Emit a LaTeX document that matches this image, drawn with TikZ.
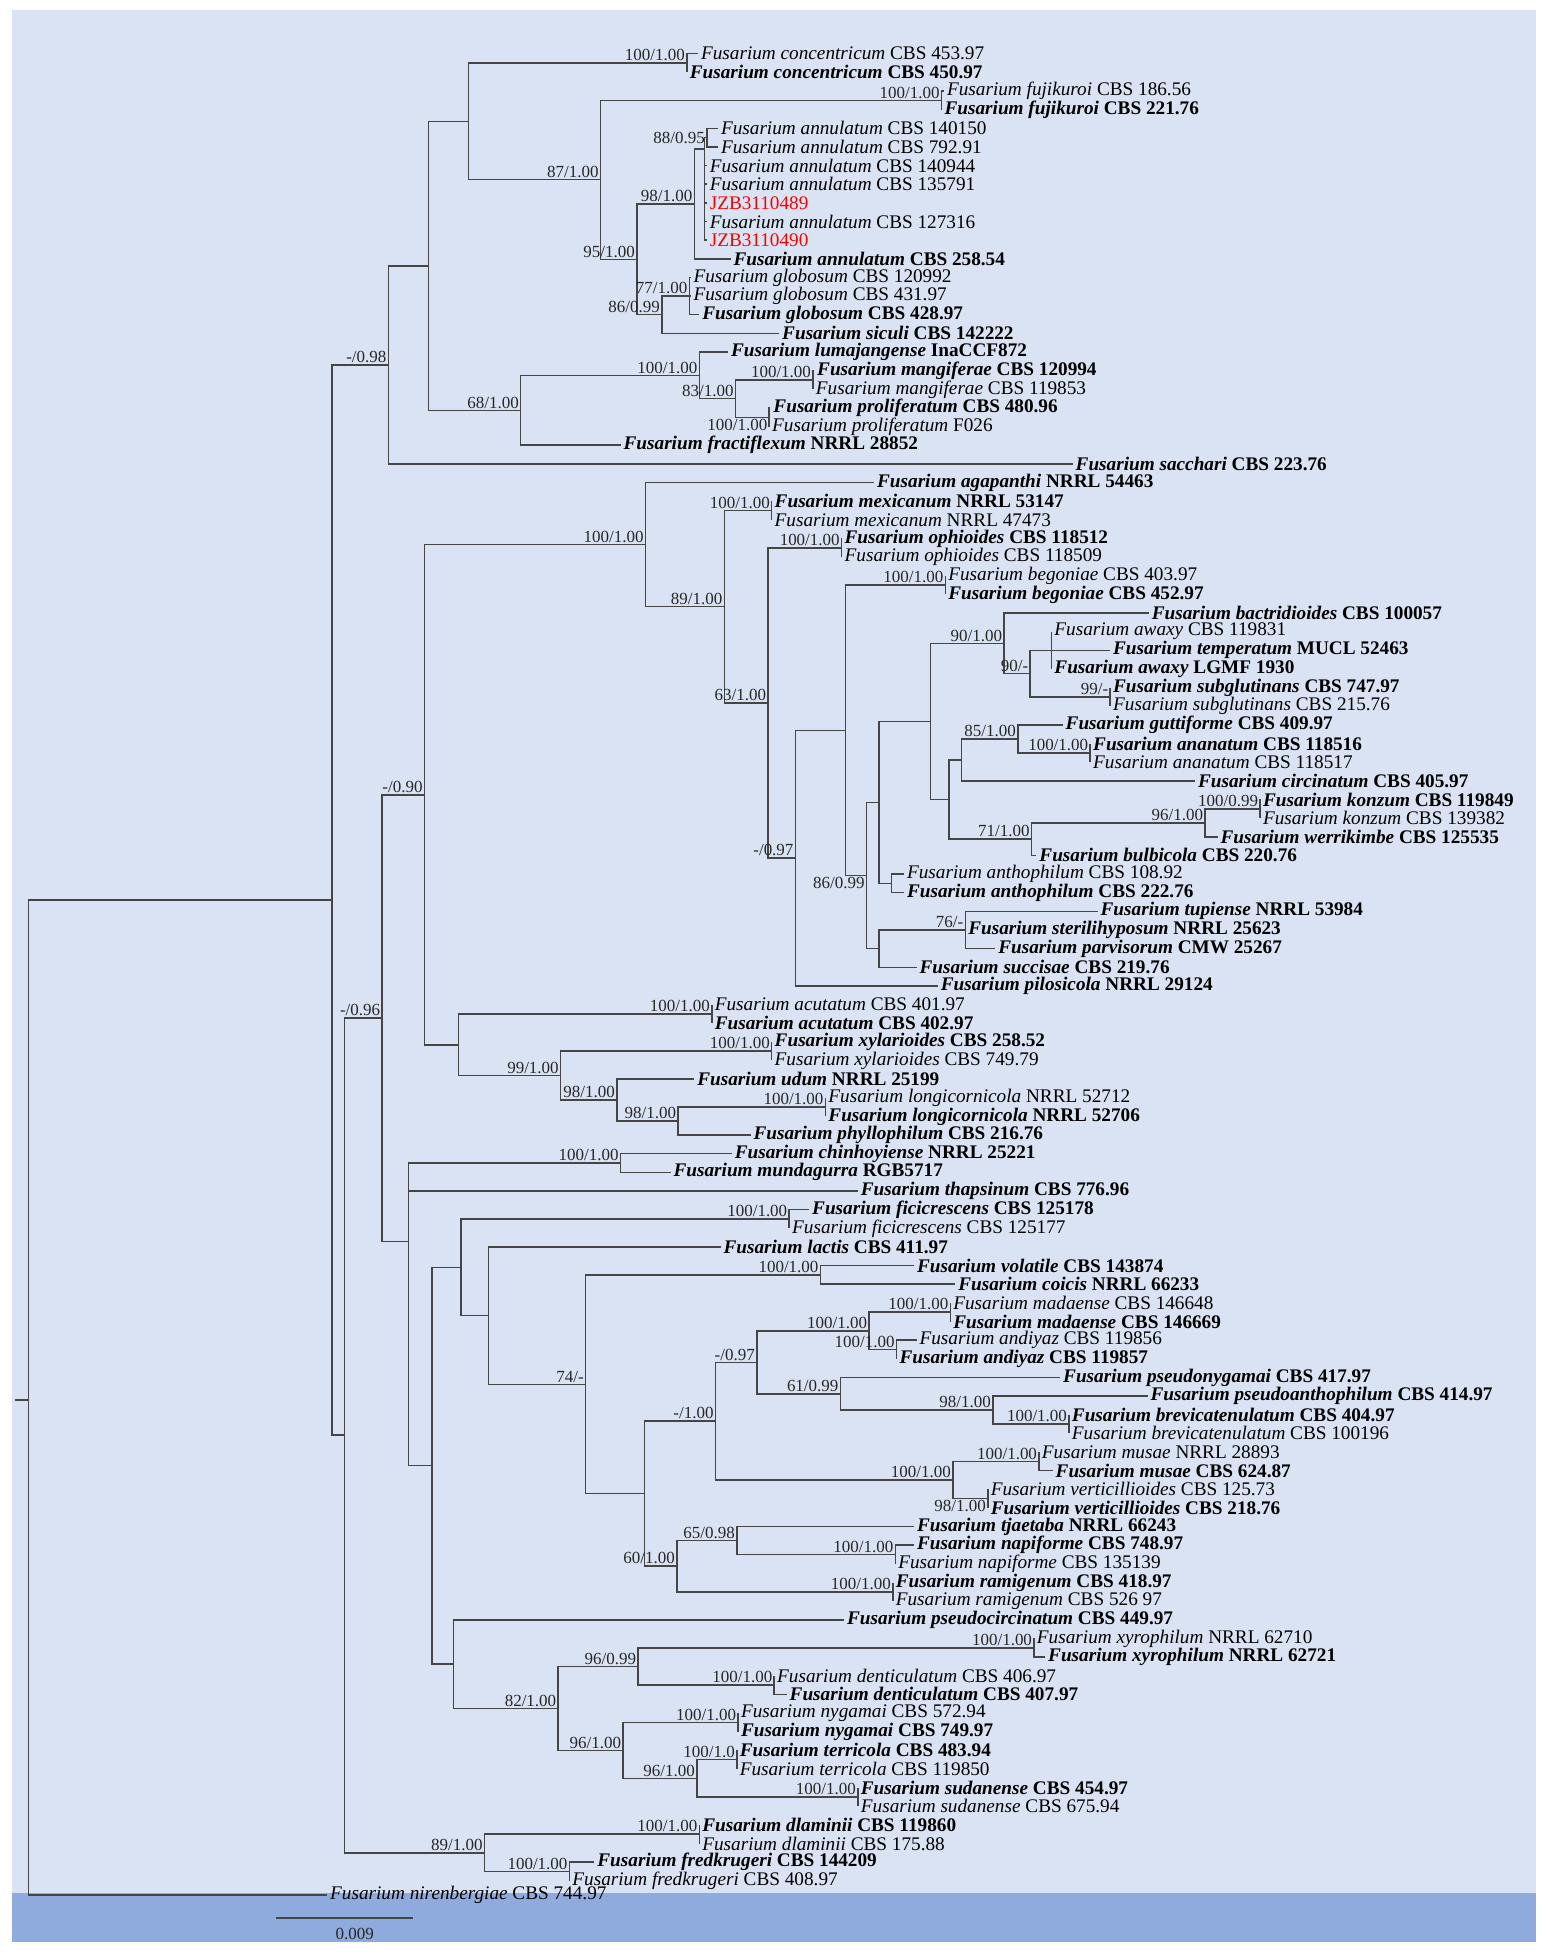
\documentclass[tikz,border=0pt]{standalone}
\usepackage{fontspec}
\setmainfont{Liberation Serif}
\usetikzlibrary{calc}
\definecolor{bgl}{HTML}{DAE3F3}
\definecolor{bgd}{HTML}{8FAADC}
\definecolor{jred}{HTML}{FF0000}
\definecolor{brc}{HTML}{454545}
\newcommand\F[1]{\textit{Fusarium #1}}
\newcommand\B[1]{{\bfseries #1}}
\newcommand\nd[6]{\coordinate (#1) at (#2,#3); \draw[br] (#4) |- (#1);
  \if\relax\detokenize{#5}\relax\else\node[sl,anchor=#6] (s#1) at (#1) {#5};\fi}
\newcommand\lf[5]{\coordinate (#1) at (#2,#3); \draw[br] (#4) |- (#1);
  \node[lft] (t#1) at (#1) {#5};}
\begin{document}
\begin{tikzpicture}[x=0.5pt,y=-7.465pt,
  br/.style={draw=brc,line width=0.6pt},
  lft/.style={anchor=west,inner sep=1pt,font=\fontsize{7.7}{8}\selectfont,text=black},
  sl/.style={inner sep=0.6pt,font=\fontsize{6.8}{7}\selectfont,text=black!85}]
\useasboundingbox (0,-2.88) rectangle (1240,102.14);
\fill[white] (0,-2.88) rectangle (1240,102.14);
\fill[bgl] (10,-2.344) rectangle (1230,101.27);
\fill[bgd] (10,98.65) rectangle (1230,101.27);
% root
\coordinate (RT) at (23,72.2);
\coordinate (RS) at (12,72.2);
\draw[br] (RS) -- (RT);
\nd{I}{266}{45.4}{RT}{}{south east}
\nd{A}{311}{16.69}{I}{-/0.98}{south east}
\nd{A1}{343}{11.38}{A}{}{south east}
\nd{A2}{375}{3.63}{A1}{}{south east}
\nd{P1}{550}{0.5}{A2}{100/1.00}{south east}
\nd{A4}{481}{6.76}{A2}{87/1.00}{south east}
\nd{P2}{754}{2.5}{A4}{100/1.00}{south east}
\nd{A5}{510}{11.03}{A4}{95/1.00}{south east}
\nd{A6}{556}{8.05}{A5}{98/1.00}{south east}
\nd{A8}{564}{5.1}{A6}{}{south east}
\nd{N88}{566}{4.5}{A8}{88/0.95}{east}
\nd{A7}{530}{14}{A5}{86/0.99}{south east}
\nd{GL}{552}{13}{A7}{77/1.00}{south east}
\nd{A3}{417}{19.125}{A1}{68/1.00}{south east}
\nd{A9}{560}{17.25}{A3}{100/1.00}{south east}
\nd{A10}{589}{18.5}{A9}{83/1.00}{south east}
\nd{MG}{651}{17.5}{A10}{100/1.00}{south east}
\nd{PR}{616}{19.5}{A10}{100/1.00}{north east}
\nd{U}{276}{74.1}{I}{}{south east}
\nd{B}{306}{51.73}{U}{-/0.96}{south east}
\nd{C}{340}{39.75}{B}{-/0.90}{south east}
\nd{D}{517}{26.33}{C}{100/1.00}{south east}
\nd{F}{580}{29.66}{D}{89/1.00}{south east}
\nd{MX}{618}{24.5}{F}{100/1.00}{south east}
\nd{G}{615}{34.82}{F}{63/1.00}{south east}
\nd{OP}{674}{26.5}{G}{100/1.00}{south east}
\nd{H}{637}{43.15}{G}{-/0.97}{south east}
\nd{J}{677}{36.29}{H}{}{south east}
\nd{BG}{757}{28.5}{J}{100/1.00}{south east}
\nd{K}{694}{44.08}{J}{86/0.99}{north east}
\nd{L}{704}{40.16}{K}{}{south east}
\nd{N}{745}{35.81}{L}{}{south east}
\nd{O}{804}{31.625}{N}{90/1.00}{south east}
\nd{O2}{825}{33.25}{O}{90/-}{south east}
\nd{AW}{842}{32}{O2}{}{south east}
\nd{SG}{889}{34.5}{O2}{99/-}{south east}
\nd{P}{760}{40}{N}{}{south east}
\nd{Q}{770}{37.875}{P}{}{south east}
\nd{Q2}{815}{36.75}{Q}{85/1.00}{south east}
\nd{AN2}{873}{37.5}{Q2}{100/1.00}{south east}
\nd{R}{826}{42.125}{P}{71/1.00}{south east}
\nd{R2}{965}{41.25}{R}{96/1.00}{south east}
\nd{KZ}{1009}{40.5}{R2}{100/0.99}{south east}
\nd{AP}{714}{44.5}{L}{}{south east}
\nd{M}{704}{48}{K}{}{south east}
\nd{S}{773}{47}{M}{76/-}{south east}
\nd{E}{367}{53.16}{C}{}{south east}
\nd{AC2}{570}{51.5}{E}{100/1.00}{south east}
\nd{W}{449}{54.81}{E}{99/1.00}{south east}
\nd{XY}{618}{53.5}{W}{100/1.00}{south east}
\nd{X}{494}{56.125}{W}{98/1.00}{south east}
\nd{Y}{543}{57.25}{X}{98/1.00}{south east}
\nd{LC}{661}{56.5}{Y}{100/1.00}{south east}
\nd{V}{327}{63.7}{B}{}{south east}
\nd{CH}{497}{59.5}{V}{100/1.00}{south east}
\nd{Z}{346}{75.73}{V}{}{south east}
\nd{AA}{369}{65.09}{Z}{}{south east}
\nd{FC}{632}{62.5}{AA}{100/1.00}{south east}
\nd{AB}{391}{67.68}{AA}{}{south east}
\nd{AC}{469}{71.37}{AB}{74/-}{south east}
\nd{VC}{657}{65.5}{AC}{100/1.00}{south east}
\nd{AD}{516}{77.23}{AC}{}{south east}
\nd{AE}{573}{73.34}{AD}{-/1.00}{south east}
\nd{AG}{606}{70.19}{AE}{-/0.97}{south east}
\nd{MA}{696}{68.5}{AG}{100/1.00}{south east}
\nd{MD}{761}{67.5}{MA}{100/1.00}{south east}
\nd{AZ}{718}{69.5}{MA}{100/1.00}{south east}
\nd{AH}{673}{71.875}{AG}{61/0.99}{south east}
\nd{AO}{795}{72.75}{AH}{98/1.00}{south east}
\nd{BR}{856}{73.5}{AO}{100/1.00}{south east}
\nd{MV}{763}{76.5}{AE}{100/1.00}{south east}
\nd{MU}{832}{75.5}{MV}{100/1.00}{south east}
\nd{VT}{791}{77.5}{MV}{98/1.00}{north east}
\nd{AF}{542}{81.125}{AD}{60/1.00}{south east}
\nd{AN}{590}{79.75}{AF}{65/0.98}{south east}
\nd{NP}{717}{80.5}{AN}{100/1.00}{south east}
\nd{RM}{715}{82.5}{AF}{100/1.00}{south east}
\nd{AI}{363}{86.375}{Z}{}{south east}
\nd{AJ}{447}{88.75}{AI}{82/1.00}{south east}
\nd{AK}{511}{86.5}{AJ}{96/0.99}{south east}
\nd{XR}{828}{85.5}{AK}{100/1.00}{south east}
\nd{DN}{620}{87.5}{AK}{100/1.00}{south east}
\nd{AL}{499}{91}{AJ}{96/1.00}{south east}
\nd{NY}{591}{89.5}{AL}{100/1.00}{south east}
\nd{AM}{558}{92.5}{AL}{96/1.00}{south east}
\nd{TR}{590}{91.5}{AM}{100/1.0}{south east}
\nd{SD}{687}{93.5}{AM}{100/1.00}{south east}
\nd{DL}{388}{96.5}{U}{89/1.00}{south east}
\nd{DP}{560}{95.5}{DL}{100/1.00}{south east}
\nd{FK}{456}{97.5}{DL}{100/1.00}{south east}
% leaves
\lf{l0}{559}{0}{P1}{\F{concentricum} CBS 453.97}
\lf{l1}{550}{1}{P1}{\B{\F{concentricum} CBS 450.97}}
\lf{l2}{756}{2}{P2}{\F{fujikuroi} CBS 186.56}
\lf{l3}{754}{3}{P2}{\B{\F{fujikuroi} CBS 221.76}}
\lf{l4}{575}{4}{N88}{\F{annulatum} CBS 140150}
\lf{l5}{575}{5}{N88}{\F{annulatum} CBS 792.91}
\lf{l6}{566}{6}{A8}{\F{annulatum} CBS 140944}
\lf{l7}{566}{7}{A8}{\F{annulatum} CBS 135791}
\lf{l8}{566}{8}{A8}{\textcolor{jred}{JZB3110489}}
\lf{l9}{566}{9}{A8}{\F{annulatum} CBS 127316}
\lf{l10}{566}{10}{A8}{\textcolor{jred}{JZB3110490}}
\lf{l11}{585}{11}{A6}{\B{\F{annulatum} CBS 258.54}}
\lf{l12}{553}{12}{GL}{\F{globosum} CBS 120992}
\lf{l13}{553}{13}{GL}{\F{globosum} CBS 431.97}
\lf{l14}{560}{14}{GL}{\B{\F{globosum} CBS 428.97}}
\lf{l15}{624}{15}{A7}{\B{\F{siculi} CBS 142222}}
\lf{l16}{583}{16}{A9}{\B{\F{lumajangense} InaCCF872}}
\lf{l17}{652}{17}{MG}{\B{\F{mangiferae} CBS 120994}}
\lf{l18}{651}{18}{MG}{\F{mangiferae} CBS 119853}
\lf{l19}{617}{19}{PR}{\B{\F{proliferatum} CBS 480.96}}
\lf{l20}{616}{20}{PR}{\F{proliferatum} F026}
\lf{l21}{497}{21}{A3}{\B{\F{fractiflexum} NRRL 28852}}
\lf{l22}{859}{22}{A}{\B{\F{sacchari} CBS 223.76}}
\lf{l23}{700}{23}{D}{\B{\F{agapanthi} NRRL 54463}}
\lf{l24}{618}{24}{MX}{\B{\F{mexicanum} NRRL 53147}}
\lf{l25}{618}{25}{MX}{\F{mexicanum} NRRL 47473}
\lf{l26}{674}{26}{OP}{\B{\F{ophioides} CBS 118512}}
\lf{l27}{674}{27}{OP}{\F{ophioides} CBS 118509}
\lf{l28}{757}{28}{BG}{\F{begoniae} CBS 403.97}
\lf{l29}{757}{29}{BG}{\B{\F{begoniae} CBS 452.97}}
\lf{l30}{920}{30}{O}{\B{\F{bactridioides} CBS 100057}}
\lf{l31}{842}{31}{AW}{\F{awaxy} CBS 119831}
\lf{l32}{889}{32}{AW}{\B{\F{temperatum} MUCL 52463}}
\lf{l33}{842}{33}{AW}{\B{\F{awaxy} LGMF 1930}}
\lf{l34}{889}{34}{SG}{\B{\F{subglutinans} CBS 747.97}}
\lf{l35}{889}{35}{SG}{\F{subglutinans} CBS 215.76}
\lf{l36}{851}{36}{Q2}{\B{\F{guttiforme} CBS 409.97}}
\lf{l37}{873}{37}{AN2}{\B{\F{ananatum} CBS 118516}}
\lf{l38}{873}{38}{AN2}{\F{ananatum} CBS 118517}
\lf{l39}{957}{39}{Q}{\B{\F{circinatum} CBS 405.97}}
\lf{l40}{1009}{40}{KZ}{\B{\F{konzum} CBS 119849}}
\lf{l41}{1009}{41}{KZ}{\F{konzum} CBS 139382}
\lf{l42}{975}{42}{R2}{\B{\F{werrikimbe} CBS 125535}}
\lf{l43}{830}{43}{R}{\B{\F{bulbicola} CBS 220.76}}
\lf{l44}{724}{44}{AP}{\F{anthophilum} CBS 108.92}
\lf{l45}{724}{45}{AP}{\B{\F{anthophilum} CBS 222.76}}
\lf{l46}{879}{46}{S}{\B{\F{tupiense} NRRL 53984}}
\lf{l47}{773}{47}{S}{\B{\F{sterilihyposum} NRRL 25623}}
\lf{l48}{797}{48}{S}{\B{\F{parvisorum} CMW 25267}}
\lf{l49}{734}{49}{M}{\B{\F{succisae} CBS 219.76}}
\lf{l50}{751}{50}{H}{\B{\F{pilosicola} NRRL 29124}}
\lf{l51}{570}{51}{AC2}{\F{acutatum} CBS 401.97}
\lf{l52}{570}{52}{AC2}{\B{\F{acutatum} CBS 402.97}}
\lf{l53}{618}{53}{XY}{\B{\F{xylarioides} CBS 258.52}}
\lf{l54}{618}{54}{XY}{\F{xylarioides} CBS 749.79}
\lf{l55}{556}{55}{X}{\B{\F{udum} NRRL 25199}}
\lf{l56}{661}{56}{LC}{\F{longicornicola} NRRL 52712}
\lf{l57}{661}{57}{LC}{\B{\F{longicornicola} NRRL 52706}}
\lf{l58}{601}{58}{Y}{\B{\F{phyllophilum} CBS 216.76}}
\lf{l59}{586}{59}{CH}{\B{\F{chinhoyiense} NRRL 25221}}
\lf{l60}{537}{60}{CH}{\B{\F{mundagurra} RGB5717}}
\lf{l61}{687}{61}{V}{\B{\F{thapsinum} CBS 776.96}}
\lf{l62}{648}{62}{FC}{\B{\F{ficicrescens} CBS 125178}}
\lf{l63}{632}{63}{FC}{\F{ficicrescens} CBS 125177}
\lf{l64}{577}{64}{AB}{\B{\F{lactis} CBS 411.97}}
\lf{l65}{732}{65}{VC}{\B{\F{volatile} CBS 143874}}
\lf{l66}{765}{66}{VC}{\B{\F{coicis} NRRL 66233}}
\lf{l67}{761}{67}{MD}{\F{madaense} CBS 146648}
\lf{l68}{761}{68}{MD}{\B{\F{madaense} CBS 146669}}
\lf{l69}{734}{69}{AZ}{\F{andiyaz} CBS 119856}
\lf{l70}{718}{70}{AZ}{\B{\F{andiyaz} CBS 119857}}
\lf{l71}{849}{71}{AH}{\B{\F{pseudonygamai} CBS 417.97}}
\lf{l72}{919}{72}{AO}{\B{\F{pseudoanthophilum} CBS 414.97}}
\lf{l73}{856}{73}{BR}{\B{\F{brevicatenulatum} CBS 404.97}}
\lf{l74}{856}{74}{BR}{\F{brevicatenulatum} CBS 100196}
\lf{l75}{832}{75}{MU}{\F{musae} NRRL 28893}
\lf{l76}{843}{76}{MU}{\B{\F{musae} CBS 624.87}}
\lf{l77}{791}{77}{VT}{\F{verticillioides} CBS 125.73}
\lf{l78}{791}{78}{VT}{\B{\F{verticillioides} CBS 218.76}}
\lf{l79}{732}{79}{AN}{\B{\F{tjaetaba} NRRL 66243}}
\lf{l80}{732}{80}{NP}{\B{\F{napiforme} CBS 748.97}}
\lf{l81}{717}{81}{NP}{\F{napiforme} CBS 135139}
\lf{l82}{715}{82}{RM}{\B{\F{ramigenum} CBS 418.97}}
\lf{l83}{715}{83}{RM}{\F{ramigenum} CBS 526 97}
\lf{l84}{676}{84}{AI}{\B{\F{pseudocircinatum} CBS 449.97}}
\lf{l85}{828}{85}{XR}{\F{xyrophilum} NRRL 62710}
\lf{l86}{837}{86}{XR}{\B{\F{xyrophilum} NRRL 62721}}
\lf{l87}{620}{87}{DN}{\F{denticulatum} CBS 406.97}
\lf{l88}{630}{88}{DN}{\B{\F{denticulatum} CBS 407.97}}
\lf{l89}{591}{89}{NY}{\F{nygamai} CBS 572.94}
\lf{l90}{591}{90}{NY}{\B{\F{nygamai} CBS 749.97}}
\lf{l91}{590}{91}{TR}{\B{\F{terricola} CBS 483.94}}
\lf{l92}{590}{92}{TR}{\F{terricola} CBS 119850}
\lf{l93}{687}{93}{SD}{\B{\F{sudanense} CBS 454.97}}
\lf{l94}{687}{94}{SD}{\F{sudanense} CBS 675.94}
\lf{l95}{560}{95}{DP}{\B{\F{dlaminii} CBS 119860}}
\lf{l96}{560}{96}{DP}{\F{dlaminii} CBS 175.88}
\lf{l97}{476}{97}{FK}{\B{\F{fredkrugeri} CBS 144209}}
\lf{l98}{456}{98}{FK}{\F{fredkrugeri} CBS 408.97}
\lf{l99}{262}{98.75}{RT}{\F{nirenbergiae} CBS 744.97}
% scale bar
\coordinate (sb1) at (221,100.0);
\coordinate (sb2) at (331,100.0);
\draw[br] (sb1) -- (sb2);
\node[sl,anchor=center] (sbl) at (284,100.85) {0.009};
\end{tikzpicture}
\end{document}
